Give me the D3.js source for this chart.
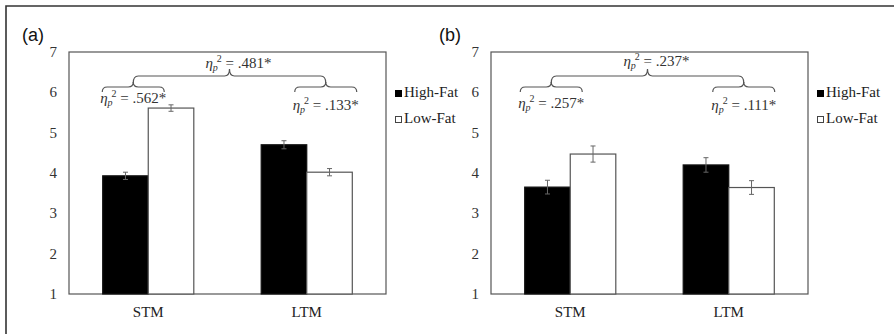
<!DOCTYPE html>
<html>
<head>
<meta charset="utf-8">
<script src="https://cdnjs.cloudflare.com/ajax/libs/d3/7.8.5/d3.min.js"></script>
<style>
	body { margin: 0; background: #fff; overflow: hidden; }
	svg { display: block; }
</style>
</head>
<body>
<div id="chart"></div>
<script>

// data
var categories = ["STM", "LTM"];
var seriesNames = ["High-Fat", "Low-Fat"];
var yTicks = [1, 2, 3, 4, 5, 6, 7];

var panelAHigh = [3.93, 4.70];
var panelALow = [5.61, 4.02];
var panelAHighErr = [0.09, 0.10];
var panelALowErr = [0.08, 0.09];
var panelAEffects = [".481*", ".562*", ".133*"];

var panelBHigh = [3.65, 4.20];
var panelBLow = [4.47, 3.64];
var panelBHighErr = [0.17, 0.18];
var panelBLowErr = [0.20, 0.17];
var panelBEffects = [".237*", ".257*", ".111*"];

var width = 894, height = 334;
var serif = "'Liberation Serif', 'DejaVu Serif', serif";

var svg = d3.select("#chart")
	.append("svg")
	.attr("width", width)
	.attr("height", height)
	.attr("font-family", serif);

svg.append("rect")
	.attr("width", width)
	.attr("height", height)
	.attr("fill", "#fff");

// frame only on top and left
svg.append("path")
	.attr("d", "M6,334 L6,6 L894,6")
	.attr("fill", "none")
	.attr("stroke", "#333")
	.attr("stroke-width", 1.6);

function bracePath(x1, x2, y, d, tipX) {
	var r = 5;
	return "M" + x1 + "," + (y + d) +
		" Q" + x1 + "," + y + " " + (x1 + r) + "," + y +
		" L" + (tipX - r) + "," + y +
		" Q" + tipX + "," + y + " " + tipX + "," + (y - d) +
		" Q" + tipX + "," + y + " " + (tipX + r) + "," + y +
		" L" + (x2 - r) + "," + y +
		" Q" + x2 + "," + y + " " + x2 + "," + (y + d);
}

// eta_p^2 = value, as real text
function effectLabel(g, cx, baseline, value) {
	var t = g.append("text")
		.attr("x", cx)
		.attr("y", baseline)
		.attr("text-anchor", "middle")
		.attr("font-family", serif)
		.attr("font-size", 15)
		.attr("fill", "#333");
	t.append("tspan").attr("font-style", "italic").text("η");
	t.append("tspan").attr("font-style", "italic").attr("font-size", 10)
		.attr("dy", 3).text("p");
	t.append("tspan").attr("font-size", 10)
		.attr("dx", -1).attr("dy", -9).text("2");
	t.append("tspan").attr("dy", 6).text(" = " + value);
}

function drawPanel(opts) {
	var g = svg.append("g")
		.attr("transform", "translate(" + opts.left + "," + opts.top + ")");

	var w = opts.width, h = opts.height;

	var x = d3.scaleBand()
		.domain(categories)
		.range([0, w]);

	var xs = d3.scaleBand()
		.domain(seriesNames)
		.range([0, x.bandwidth()])
		.paddingOuter(0.74);

	var y = d3.scaleLinear()
		.domain([1, 7])
		.range([h, 0]);

	// plot area box
	g.append("rect")
		.attr("width", w)
		.attr("height", h)
		.attr("fill", "none")
		.attr("stroke", "#555")
		.attr("stroke-width", 1.2);

	// y tick labels
	g.selectAll("text.ytick")
		.data(yTicks)
		.enter()
			.append("text")
			.attr("class", "ytick")
			.attr("x", -12)
			.attr("y", function(d) { return y(d) + 5; })
			.attr("text-anchor", "end")
			.attr("font-size", 15)
			.attr("fill", "#333")
			.text(function(d) { return d; });

	// category labels
	g.selectAll("text.cat")
		.data(categories)
		.enter()
			.append("text")
			.attr("class", "cat")
			.attr("x", function(d) { return x(d) + x.bandwidth() / 2; })
			.attr("y", h + 23)
			.attr("text-anchor", "middle")
			.attr("font-size", 15)
			.attr("fill", "#222")
			.text(function(d) { return d; });

	var rows = [];
	categories.forEach(function(c, i) {
		rows.push({ cat: c, series: seriesNames[0], value: opts.high[i], err: opts.highErr[i] });
		rows.push({ cat: c, series: seriesNames[1], value: opts.low[i], err: opts.lowErr[i] });
	});

	// bars
	g.selectAll("rect.bar")
		.data(rows)
		.enter()
			.append("rect")
			.attr("class", "bar")
			.attr("x", function(d) { return x(d.cat) + xs(d.series); })
			.attr("y", function(d) { return y(d.value); })
			.attr("width", xs.bandwidth())
			.attr("height", function(d) { return h - y(d.value); })
			.attr("fill", function(d) { return d.series === "High-Fat" ? "#000" : "#fff"; })
			.attr("stroke", function(d) { return d.series === "High-Fat" ? "#111" : "#555"; })
			.attr("stroke-width", 1.2);

	// error bars
	var eb = g.selectAll("g.err")
		.data(rows)
		.enter()
			.append("g")
			.attr("class", "err")
			.attr("stroke", "#666")
			.attr("stroke-width", 1);

	function cx(d) { return x(d.cat) + xs(d.series) + xs.bandwidth() / 2; }

	eb.append("line")
		.attr("x1", cx).attr("x2", cx)
		.attr("y1", function(d) { return y(d.value + d.err); })
		.attr("y2", function(d) { return y(d.value - d.err); });
	eb.append("line")
		.attr("x1", function(d) { return cx(d) - 2.5; })
		.attr("x2", function(d) { return cx(d) + 2.5; })
		.attr("y1", function(d) { return y(d.value + d.err); })
		.attr("y2", function(d) { return y(d.value + d.err); });
	eb.append("line")
		.attr("x1", function(d) { return cx(d) - 2.5; })
		.attr("x2", function(d) { return cx(d) + 2.5; })
		.attr("y1", function(d) { return y(d.value - d.err); })
		.attr("y2", function(d) { return y(d.value - d.err); });

	// braces and effect sizes
	var c0 = x(categories[0]) + x.bandwidth() / 2 + opts.braceShift[0];
	var c1 = x(categories[1]) + x.bandwidth() / 2 + opts.braceShift[1];
	var bigMid = (c0 + c1) / 2;

	var braces = [
		{ x1: c0, x2: c1, y: 24, d: 7, tip: bigMid },
		{ x1: c0 - 31, x2: c0 + 31, y: 35, d: 5, tip: c0 },
		{ x1: c1 - 31, x2: c1 + 31, y: 35, d: 5, tip: c1 }
	];
	g.selectAll("path.brace")
		.data(braces)
		.enter()
			.append("path")
			.attr("class", "brace")
			.attr("d", function(d) { return bracePath(d.x1, d.x2, d.y, d.d, d.tip); })
			.attr("fill", "none")
			.attr("stroke", "#555")
			.attr("stroke-width", 1.2);

	effectLabel(g, bigMid + 9, opts.labelY[0], opts.effects[0]);
	effectLabel(g, c0, opts.labelY[1], opts.effects[1]);
	effectLabel(g, c1, opts.labelY[2], opts.effects[2]);

	// legend
	var lg = svg.append("g")
		.attr("transform", "translate(" + (opts.left + w + 9) + "," + opts.top + ")");
	var li = lg.selectAll("g")
		.data(seriesNames)
		.enter()
			.append("g")
			.attr("transform", function(d, i) { return "translate(0," + (38 + i * 26) + ")"; });
	li.append("rect")
		.attr("x", 0.5).attr("y", 0.5)
		.attr("width", 6).attr("height", 6)
		.attr("fill", function(d, i) { return i === 0 ? "#000" : "#fff"; })
		.attr("stroke", function(d, i) { return i === 0 ? "#000" : "#444"; });
	li.append("text")
		.attr("x", 9)
		.attr("y", 7)
		.attr("font-size", 15)
		.attr("fill", "#222")
		.text(function(d) { return d; });

	// panel letter
	svg.append("text")
		.attr("x", opts.letterX)
		.attr("y", 41)
		.attr("font-family", "'Liberation Sans', Arial, sans-serif")
		.attr("font-size", 18)
		.attr("fill", "#111")
		.text(opts.letter);
}

drawPanel({
	left: 69, top: 52, width: 317, height: 242,
	high: panelAHigh, low: panelALow, highErr: panelAHighErr, lowErr: panelALowErr,
	effects: panelAEffects, braceShift: [-15, 19], labelY: [16, 51, 58],
	letter: "(a)", letterX: 22
});

drawPanel({
	left: 491, top: 52, width: 317, height: 242,
	high: panelBHigh, low: panelBLow, highErr: panelBHighErr, lowErr: panelBLowErr,
	effects: panelBEffects, braceShift: [-19, 15], labelY: [14, 56, 58],
	letter: "(b)", letterX: 439
});

</script>
</body>
</html>
